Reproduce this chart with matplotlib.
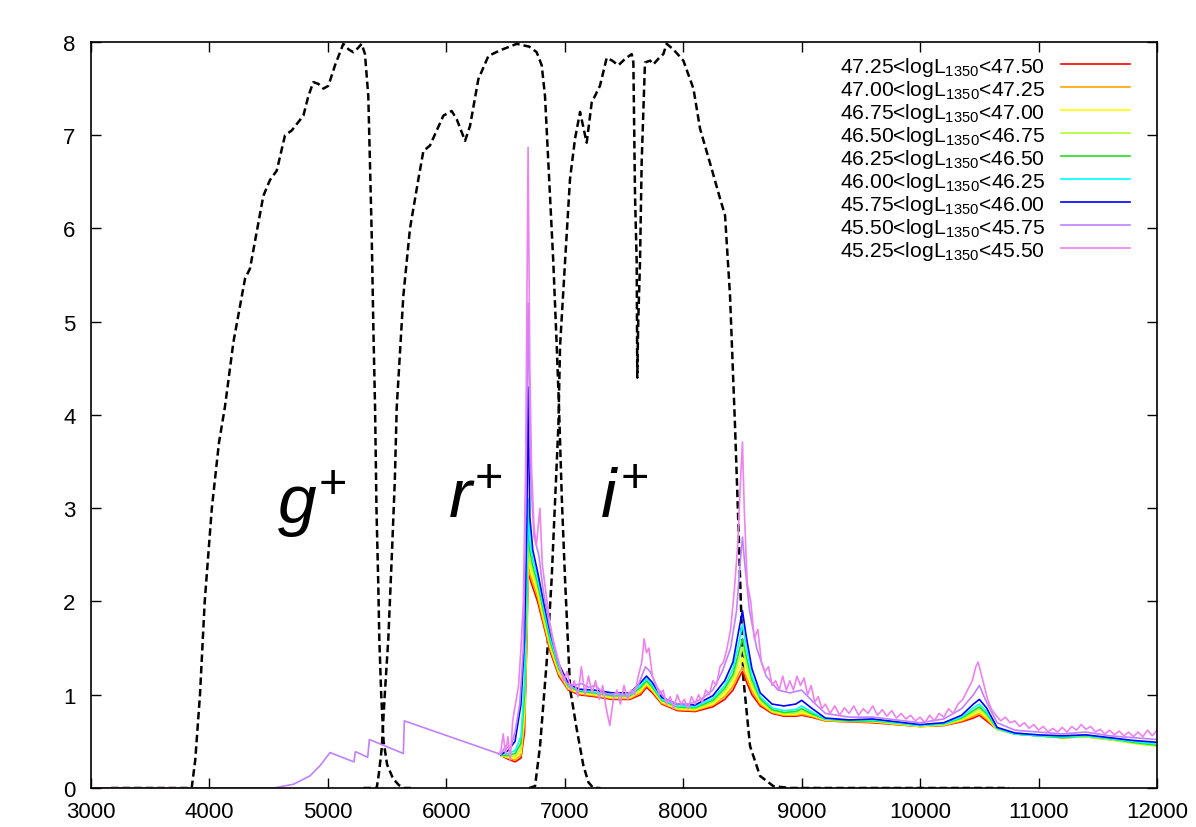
## Composite quasar spectra vs g+ r+ i+ filter curves

import matplotlib
matplotlib.use('Agg')
import matplotlib.pyplot as plt

plt.rcParams['font.family'] = ['Liberation Sans', 'DejaVu Sans']
plt.rcParams['mathtext.fontset'] = 'custom'
plt.rcParams['mathtext.rm'] = 'Liberation Sans'
plt.rcParams['mathtext.it'] = 'Liberation Sans:italic'
plt.rcParams['mathtext.default'] = 'regular'

## Filter transmission curves (scaled to 8)
g_wl = [3170, 3850, 3880, 3920, 3960, 4020, 4080, 4131, 4202, 4300, 4342, 4455, 4511, 4568, 4638, 4694,
        4793, 4835, 4877, 4920, 4962, 5004, 5060, 5130, 5175, 5215, 5250, 5285, 5313, 5341, 5355, 5370,
        5384, 5398, 5410, 5425, 5434, 5450, 5470, 5500, 5550, 5600, 5640, 5700]
g_tr = [0, 0, 0.3, 1.0, 2.0, 3.0, 3.7, 4.09, 4.78, 5.46, 5.57, 6.35, 6.52, 6.62, 7.0, 7.05,
        7.21, 7.42, 7.57, 7.55, 7.50, 7.53, 7.75, 7.98, 7.92, 7.89, 7.93, 7.98, 7.87, 7.42, 6.71, 5.92,
        4.92, 4.09, 3.0, 2.2, 1.6, 1.0, 0.5, 0.25, 0.1, 0.03, 0.0, 0.0]

r_wl = [5300, 5412, 5430, 5454, 5480, 5510, 5540, 5565, 5581, 5637, 5693, 5764, 5806, 5862, 5975, 6045,
        6088, 6158, 6200, 6270, 6355, 6453, 6594, 6700, 6763, 6805, 6833, 6861, 6903, 6932, 6951, 6975,
        7002, 7045, 7101, 7157, 7200, 7241, 7300]
r_tr = [0, 0, 0.15, 0.42, 1.0, 1.6, 2.5, 3.3, 4.08, 5.28, 6.0, 6.53, 6.83, 6.89, 7.21, 7.26,
        7.17, 6.94, 7.10, 7.6, 7.85, 7.91, 7.98, 7.95, 7.89, 7.75, 7.42, 6.71, 5.64, 4.74, 4.09, 3.1,
        2.24, 1.06, 0.63, 0.24, 0.06, 0.0, 0.0]

i_wl = [6700, 6749, 6791, 6847, 6889, 6946, 6960, 7002, 7044, 7086, 7129, 7171, 7185, 7227, 7297, 7354,
        7400, 7452, 7510, 7565, 7579, 7593, 7607, 7612, 7620, 7635, 7649, 7677, 7720, 7748, 7790, 7832,
        7860, 7917, 8001, 8086, 8142, 8240, 8311, 8353, 8395, 8437, 8467, 8480, 8508, 8564, 8648, 8761,
        8900, 10750]
i_tr = [0, 0.02, 0.45, 1.35, 2.24, 3.89, 4.74, 5.64, 6.53, 6.96, 7.25, 7.0, 6.92, 7.35, 7.53, 7.83,
        7.80, 7.75, 7.82, 7.87, 7.78, 6.35, 5.64, 4.40, 5.0, 5.64, 6.71, 7.78, 7.80, 7.76, 7.82, 7.87,
        7.98, 7.92, 7.80, 7.50, 7.07, 6.64, 6.32, 6.14, 5.28, 3.89, 2.78, 2.24, 1.17, 0.45, 0.13, 0.02,
        0.0, 0.0]

## Composite spectra, bright bins (smooth)
wl = [6460, 6520, 6580, 6630, 6660, 6680, 6690, 6705, 6730, 6770, 6820, 6880, 6950, 7030, 7120, 7250,
      7400, 7550, 7640, 7690, 7740, 7820, 7950, 8100, 8250, 8350, 8420, 8470, 8500, 8530, 8580, 8650,
      8750, 8850, 8950, 9000, 9080, 9200, 9400, 9600, 9800, 10000, 10200, 10350, 10450, 10500, 10560, 10650,
      10800, 11000, 11200, 11400, 11600, 11800, 12000]

f_4725 = [0.35, 0.31, 0.28, 0.32, 0.6, 1.6, 2.3, 2.25, 2.15, 2.0, 1.75, 1.45, 1.2, 1.05, 1.0, 0.98,
          0.95, 0.95, 1.0, 1.08, 1.02, 0.9, 0.83, 0.82, 0.87, 0.95, 1.05, 1.18, 1.25, 1.15, 1.0, 0.88,
          0.8, 0.77, 0.77, 0.78, 0.76, 0.72, 0.71, 0.7, 0.68, 0.66, 0.67, 0.71, 0.75, 0.78, 0.72, 0.63,
          0.58, 0.56, 0.54, 0.55, 0.52, 0.49, 0.46]
f_4700 = [0.35, 0.32, 0.3, 0.35, 0.7, 1.7, 2.4, 2.3, 2.2, 2.05, 1.78, 1.48, 1.22, 1.06, 1.01, 0.99,
          0.96, 0.96, 1.02, 1.1, 1.04, 0.91, 0.84, 0.83, 0.89, 0.98, 1.09, 1.23, 1.3, 1.2, 1.04, 0.9,
          0.81, 0.78, 0.78, 0.79, 0.77, 0.72, 0.71, 0.71, 0.68, 0.66, 0.67, 0.72, 0.77, 0.8, 0.74, 0.63,
          0.58, 0.56, 0.54, 0.55, 0.52, 0.49, 0.46]
f_4675 = [0.35, 0.33, 0.32, 0.38, 0.8, 1.8, 2.5, 2.38, 2.26, 2.1, 1.82, 1.5, 1.24, 1.07, 1.02, 1.0,
          0.97, 0.97, 1.04, 1.12, 1.05, 0.92, 0.85, 0.84, 0.9, 1.01, 1.13, 1.3, 1.4, 1.27, 1.08, 0.92,
          0.82, 0.79, 0.79, 0.81, 0.78, 0.73, 0.72, 0.71, 0.69, 0.66, 0.68, 0.73, 0.79, 0.82, 0.76, 0.63,
          0.58, 0.56, 0.54, 0.55, 0.52, 0.48, 0.45]
f_4650 = [0.35, 0.34, 0.34, 0.42, 0.9, 1.95, 2.6, 2.45, 2.32, 2.15, 1.86, 1.53, 1.26, 1.08, 1.03, 1.01,
          0.98, 0.98, 1.06, 1.14, 1.07, 0.93, 0.86, 0.85, 0.92, 1.04, 1.18, 1.38, 1.5, 1.34, 1.12, 0.94,
          0.83, 0.8, 0.8, 0.83, 0.79, 0.73, 0.72, 0.72, 0.69, 0.67, 0.68, 0.74, 0.81, 0.85, 0.78, 0.63,
          0.58, 0.56, 0.54, 0.55, 0.52, 0.48, 0.45]
f_4625 = [0.35, 0.35, 0.37, 0.48, 1.0, 2.1, 2.9, 2.55, 2.38, 2.2, 1.9, 1.56, 1.28, 1.09, 1.04, 1.02,
          0.99, 0.99, 1.08, 1.15, 1.08, 0.94, 0.87, 0.86, 0.94, 1.07, 1.22, 1.46, 1.6, 1.42, 1.16, 0.96,
          0.84, 0.81, 0.82, 0.85, 0.8, 0.74, 0.72, 0.72, 0.7, 0.67, 0.69, 0.75, 0.83, 0.87, 0.8, 0.64,
          0.58, 0.56, 0.54, 0.56, 0.53, 0.49, 0.46]
f_4600 = [0.36, 0.37, 0.4, 0.55, 1.15, 2.3, 3.1, 2.65, 2.45, 2.25, 1.94, 1.6, 1.3, 1.1, 1.05, 1.03,
          1.0, 1.0, 1.1, 1.17, 1.1, 0.95, 0.88, 0.87, 0.96, 1.1, 1.28, 1.56, 1.75, 1.52, 1.2, 0.98,
          0.86, 0.83, 0.84, 0.88, 0.82, 0.74, 0.73, 0.73, 0.7, 0.67, 0.69, 0.76, 0.86, 0.9, 0.82, 0.64,
          0.58, 0.56, 0.55, 0.56, 0.53, 0.5, 0.47]
f_4575 = [0.36, 0.4, 0.5, 0.9, 1.6, 2.9, 4.3, 2.9, 2.55, 2.32, 2.0, 1.65, 1.33, 1.12, 1.06, 1.05,
          1.02, 1.02, 1.13, 1.2, 1.13, 0.97, 0.9, 0.89, 0.99, 1.15, 1.35, 1.7, 1.9, 1.64, 1.28, 1.02,
          0.9, 0.88, 0.9, 0.94, 0.86, 0.75, 0.73, 0.74, 0.71, 0.68, 0.7, 0.78, 0.9, 0.95, 0.86, 0.65,
          0.59, 0.57, 0.56, 0.57, 0.54, 0.51, 0.49]

## Faint bins (noisy)
wl_4550 = [3000, 4540, 4709, 4849, 4934, 5018, 5220, 5232, 5336, 5350, 5637, 5645, 6460, 6500, 6540, 6580,
           6620, 6650, 6670, 6690, 6710, 6740, 6780, 6820, 6870, 6920, 6970, 7020, 7080, 7140, 7200, 7260,
           7320, 7380, 7440, 7500, 7560, 7620, 7680, 7720, 7780, 7850, 7950, 8050, 8150, 8250, 8330, 8400,
           8450, 8480, 8500, 8520, 8560, 8620, 8700, 8800, 8900, 9000, 9100, 9200, 9400, 9600, 9800, 10000,
           10200, 10350, 10450, 10500, 10550, 10650, 10800, 11000, 11200, 11400, 11600, 11800, 12000]
f_4550 = [0.0, 0.0, 0.04, 0.13, 0.24, 0.38, 0.28, 0.39, 0.33, 0.52, 0.37, 0.72, 0.36, 0.45, 0.42, 0.6,
          0.9, 1.5, 3.0, 5.2, 3.4, 2.7, 2.5, 2.1, 1.75, 1.45, 1.25, 1.12, 1.1, 1.12, 1.08, 1.1,
          1.02, 1.0, 1.02, 1.0, 1.03, 1.1, 1.3, 1.25, 1.08, 0.95, 0.9, 0.9, 0.95, 1.05, 1.25, 1.5,
          1.9, 2.4, 2.69, 2.4, 1.9, 1.5, 1.2, 1.05, 1.02, 1.05, 0.92, 0.8, 0.76, 0.76, 0.73, 0.7,
          0.74, 0.85, 1.0, 1.1, 0.95, 0.7, 0.62, 0.6, 0.58, 0.6, 0.56, 0.54, 0.52]

wl_4525 = [6440, 6460, 6480, 6500, 6520, 6540, 6560, 6590, 6610, 6630, 6650, 6670, 6690, 6705, 6720, 6740,
           6760, 6790, 6810, 6840, 6870, 6900, 6930, 6960, 6990, 7020, 7050, 7080, 7110, 7140, 7170, 7200,
           7230, 7260, 7290, 7320, 7350, 7380, 7410, 7440, 7470, 7500, 7530, 7560, 7590, 7620, 7650, 7670,
           7690, 7710, 7740, 7770, 7800, 7830, 7860, 7890, 7920, 7950, 7980, 8010, 8040, 8070, 8100, 8130,
           8160, 8190, 8220, 8250, 8280, 8310, 8340, 8370, 8400, 8430, 8460, 8480, 8500, 8515, 8540, 8570,
           8600, 8630, 8660, 8690, 8720, 8750, 8780, 8810, 8840, 8870, 8900, 8930, 8960, 8990, 9020, 9050,
           9080, 9110, 9140, 9170, 9200, 9240, 9280, 9320, 9360, 9400, 9440, 9480, 9520, 9560, 9600, 9640,
           9680, 9720, 9760, 9800, 9840, 9880, 9920, 9960, 10000, 10040, 10080, 10120, 10160, 10200, 10240, 10280,
           10320, 10360, 10400, 10440, 10470, 10490, 10510, 10540, 10570, 10600, 10640, 10680, 10720, 10760, 10800, 10840,
           10880, 10920, 10960, 11000, 11040, 11080, 11120, 11160, 11200, 11240, 11280, 11320, 11360, 11400, 11440, 11480,
           11520, 11560, 11600, 11640, 11680, 11720, 11760, 11800, 11840, 11880, 11920, 11960, 12000]
f_4525 = [0.36, 0.40, 0.58, 0.36, 0.55, 0.30, 0.72, 0.95, 1.1, 1.5, 2.0, 3.5, 6.87, 4.5, 3.4, 2.8,
          2.6, 3.0, 2.4, 2.1, 1.8, 1.6, 1.45, 1.3, 1.15, 1.25, 1.05, 1.15, 0.98, 1.3, 1.0, 1.2,
          1.02, 1.15, 0.95, 1.1, 0.85, 0.67, 0.95, 1.05, 0.9, 1.1, 0.95, 1.05, 1.0, 1.2, 1.35, 1.6,
          1.45, 1.5, 1.2, 1.1, 1.0, 1.05, 0.9, 0.98, 0.85, 1.0, 0.9, 0.95, 0.85, 0.98, 0.9, 1.0,
          0.92, 1.05, 1.0, 1.15, 1.1, 1.3, 1.35, 1.5, 1.7, 2.1, 2.6, 3.2, 3.71, 3.0, 2.2, 2.0,
          1.6, 1.7, 1.35, 1.25, 1.3, 1.1, 1.15, 1.05, 1.2, 1.05, 1.15, 1.05, 1.2, 1.1, 1.18, 1.0,
          1.1, 0.92, 0.98, 0.85, 0.9, 0.8, 0.88, 0.78, 0.86, 0.8, 0.88, 0.78, 0.85, 0.8, 0.88, 0.78,
          0.84, 0.77, 0.83, 0.75, 0.8, 0.74, 0.78, 0.72, 0.76, 0.7, 0.78, 0.72, 0.8, 0.76, 0.85, 0.8,
          0.9, 0.95, 1.05, 1.15, 1.3, 1.35, 1.25, 1.1, 0.95, 0.85, 0.78, 0.72, 0.76, 0.7, 0.72, 0.66,
          0.7, 0.64, 0.68, 0.62, 0.66, 0.6, 0.64, 0.6, 0.65, 0.6, 0.66, 0.62, 0.68, 0.63, 0.66, 0.6,
          0.63, 0.58, 0.62, 0.57, 0.61, 0.56, 0.6, 0.55, 0.6, 0.55, 0.62, 0.56, 0.62]

labels = ['47.25<logL$_{1350}$<47.50', '47.00<logL$_{1350}$<47.25', '46.75<logL$_{1350}$<47.00',
          '46.50<logL$_{1350}$<46.75', '46.25<logL$_{1350}$<46.50', '46.00<logL$_{1350}$<46.25',
          '45.75<logL$_{1350}$<46.00', '45.50<logL$_{1350}$<45.75', '45.25<logL$_{1350}$<45.50']
colors = ['#ff0000', '#ffa500', '#ffff00', '#adff2f', '#22dd22', '#00ffff', '#0000ff', '#c080ff', '#ee82ee']

## Plotting
fig = plt.figure(figsize=(11.96, 8.28), dpi=100)
ax = fig.add_axes([0.0761, 0.0471, 0.8913, 0.901])

dash = dict(color='black', lw=1.8, ls=(0, (3, 1.6)))
ax.plot(g_wl, g_tr, **dash)
ax.plot(r_wl, r_tr, **dash)
ax.plot(i_wl, i_tr, **dash)

smooth = [f_4725, f_4700, f_4675, f_4650, f_4625, f_4600, f_4575]
for k in range(7):
    ax.plot(wl, smooth[k], color=colors[k], lw=1.2, label=labels[k])
ax.plot(wl_4550, f_4550, color=colors[7], lw=1.2, label=labels[7])
ax.plot(wl_4525, f_4525, color=colors[8], lw=1.2, label=labels[8])

ax.text(4866, 3.05, r'$\mathit{g}^{+}$', fontsize=50, ha='center', va='center')
ax.text(6242, 3.1, r'$\mathit{r}^{+}$', fontsize=50, ha='center', va='center')
ax.text(7500, 3.1, r'$\mathit{i}^{+}$', fontsize=50, ha='center', va='center')

ax.set_xlim(3000, 12000)
ax.set_ylim(0, 8)
ax.set_xticks(range(3000, 12001, 1000))
ax.set_yticks(range(0, 9))
ax.tick_params(direction='in', length=7, width=1, top=True, right=True, labelsize=16)
ax.tick_params(axis='x', pad=9)
ax.tick_params(axis='y', pad=11)
for s in ax.spines.values():
    s.set_linewidth(1.2)

ax.legend(loc='upper right', bbox_to_anchor=(0.975, 0.983), frameon=False, markerfirst=False,
          fontsize=15.2, handlelength=3.3, handletextpad=0.75, labelspacing=0.0,
          borderpad=0, borderaxespad=0)

fig.savefig('out.png', dpi=100)
